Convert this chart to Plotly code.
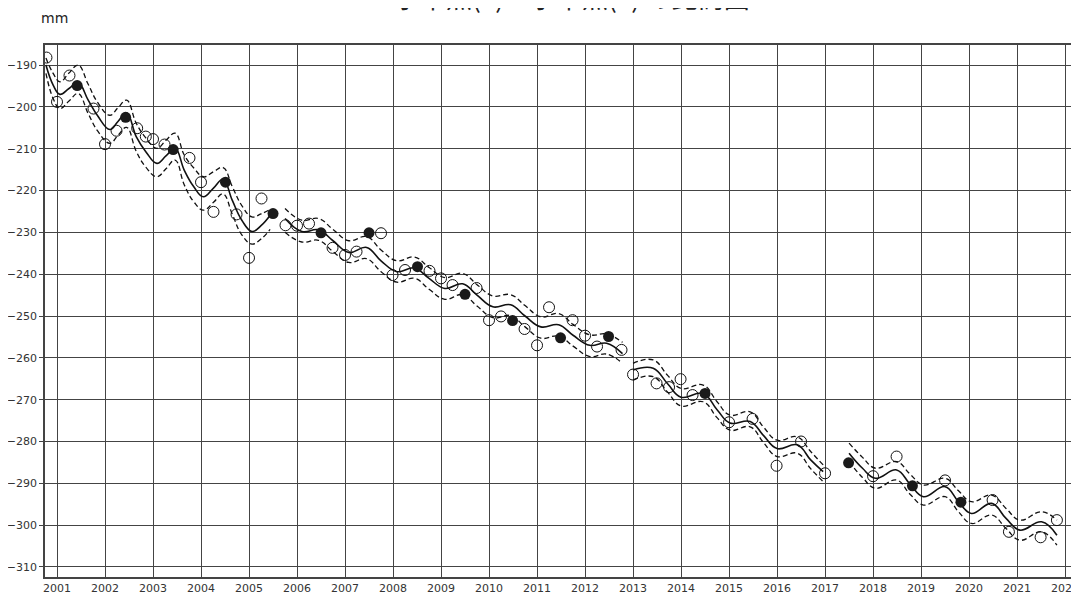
import plotly.graph_objects as go

# observed values (decimal year, mm)
open_years = [2000.78, 2001.0, 2001.26, 2001.76, 2002.0, 2002.24, 2002.67, 2002.85, 2003.0, 2003.24,
              2003.76, 2004.0, 2004.26, 2004.74, 2005.0, 2005.26, 2005.76, 2006.0, 2006.25, 2006.74,
              2007.0, 2007.24, 2007.75, 2007.99, 2008.25, 2008.76, 2009.0, 2009.24, 2009.74, 2010.0,
              2010.25, 2010.74, 2011.0, 2011.25, 2011.74, 2012.0, 2012.25, 2012.76, 2013.0, 2013.49,
              2013.75, 2013.99, 2014.24, 2015.0, 2015.49, 2015.99, 2016.5, 2017.0, 2018.0, 2018.49,
              2019.5, 2020.49, 2020.83, 2021.49, 2021.83]
open_vals = [-188.2, -198.8, -192.5, -200.4, -208.9, -205.7, -205.1, -207.1, -207.7, -209.0,
             -212.2, -218.0, -225.1, -225.7, -236.1, -221.9, -228.3, -228.4, -227.9, -233.7,
             -235.4, -234.6, -230.2, -240.2, -239.0, -239.2, -241.0, -242.6, -243.3, -251.0,
             -250.1, -253.1, -257.0, -247.9, -251.0, -254.7, -257.3, -258.1, -264.0, -266.1,
             -267.0, -265.1, -268.9, -275.4, -274.6, -285.8, -280.0, -287.6, -288.3, -283.6,
             -289.3, -294.0, -301.6, -302.9, -298.8]

filled_years = [2001.42, 2002.43, 2003.42, 2004.51, 2005.5, 2006.5, 2007.5, 2008.51, 2009.5, 2010.49,
                2011.49, 2012.49, 2014.5, 2017.49, 2018.82, 2019.83]
filled_vals = [-194.9, -202.5, -210.2, -218.0, -225.5, -230.1, -230.1, -238.2, -244.8, -251.1,
               -255.2, -254.9, -268.5, -285.1, -290.6, -294.5]

# fitted curve, read per segment: years, fit, upper band, lower band
seg1_years = [2000.77, 2000.92, 2001.06, 2001.25, 2001.44, 2001.65, 2001.85, 2002.1, 2002.27, 2002.45,
              2002.65, 2002.85, 2003.08, 2003.27, 2003.46, 2003.65, 2003.85, 2004.05, 2004.26, 2004.46,
              2004.65, 2004.85, 2005.06, 2005.25, 2005.44]
seg1_fit = [-190.0, -194.8, -197.0, -195.6, -194.2, -198.4, -202.2, -205.4, -203.5, -201.4,
            -207.1, -210.7, -213.5, -211.7, -209.9, -215.1, -219.1, -221.5, -219.4, -217.3,
            -222.3, -227.1, -229.8, -228.4, -225.9]
seg1_up = [-188.3, -192.0, -194.0, -191.9, -190.0, -194.6, -199.0, -202.0, -200.2, -198.4,
           -203.9, -207.4, -209.9, -208.0, -206.3, -211.5, -214.6, -216.7, -215.5, -214.5,
           -219.0, -223.6, -226.3, -225.6, -224.5]
seg1_low = [-192.0, -198.0, -200.4, -198.6, -196.8, -201.6, -205.8, -208.7, -206.8, -204.9,
            -210.6, -214.4, -216.7, -214.8, -212.7, -218.6, -222.7, -224.7, -222.8, -220.8,
            -225.6, -230.6, -232.8, -231.6, -229.3]

seg2_years = [2005.75, 2006.1, 2006.45, 2006.75, 2007.08, 2007.45, 2007.75, 2008.08, 2008.45, 2008.75,
              2009.08, 2009.45, 2009.75, 2010.08, 2010.45, 2010.75, 2011.08, 2011.45, 2011.75, 2012.1,
              2012.45, 2012.78]
seg2_fit = [-226.7, -229.8, -229.4, -232.0, -234.8, -233.6, -236.8, -239.4, -238.5, -241.0,
            -243.4, -242.3, -245.0, -247.8, -247.3, -250.0, -252.6, -252.1, -254.6, -257.0,
            -256.5, -259.0]
seg2_up = [-224.3, -227.1, -226.7, -229.3, -232.0, -231.0, -234.2, -236.8, -235.9, -238.4,
           -240.8, -239.8, -242.5, -245.2, -244.9, -247.5, -250.2, -249.4, -252.0, -254.5,
           -254.3, -256.3]
seg2_low = [-230.0, -232.3, -231.9, -234.6, -237.2, -236.3, -239.4, -241.9, -241.0, -243.6,
            -246.0, -244.9, -247.6, -250.4, -249.9, -252.6, -255.3, -254.8, -257.2, -259.7,
            -259.1, -261.3]

seg3_years = [2013.0, 2013.42, 2013.72, 2014.0, 2014.46, 2014.75, 2015.02, 2015.44, 2015.72, 2016.0,
              2016.42, 2016.7, 2016.96]
seg3_fit = [-262.9, -262.5, -266.2, -269.4, -268.5, -272.4, -275.6, -275.2, -278.6, -281.7,
            -280.8, -284.4, -287.2]
seg3_up = [-261.3, -260.5, -264.2, -267.3, -266.5, -270.5, -273.7, -272.9, -276.6, -279.7,
           -278.9, -282.4, -285.6]
seg3_low = [-265.3, -264.5, -268.2, -271.5, -270.5, -274.3, -277.3, -276.5, -280.3, -283.6,
            -282.8, -286.5, -289.6]

seg4_years = [2017.5, 2017.78, 2018.05, 2018.49, 2018.77, 2019.05, 2019.5, 2019.78, 2020.05, 2020.47,
              2020.77, 2021.06, 2021.51, 2021.83]
seg4_fit = [-282.8, -286.4, -288.8, -286.8, -290.2, -293.2, -290.8, -294.4, -297.2, -294.8,
            -298.4, -301.2, -299.2, -302.4]
seg4_up = [-280.4, -283.8, -286.4, -284.8, -287.8, -290.4, -288.8, -291.8, -294.4, -292.8,
           -296.0, -298.8, -296.8, -298.8]
seg4_low = [-284.8, -288.6, -291.2, -289.2, -292.6, -295.2, -293.2, -296.8, -299.6, -297.6,
            -300.8, -303.6, -301.6, -304.8]

year_ticks = list(range(2001, 2023))
mm_ticks = list(range(-310, -189, 10))

fig = go.Figure()

segments = [(seg1_years, seg1_fit, seg1_up, seg1_low),
            (seg2_years, seg2_fit, seg2_up, seg2_low),
            (seg3_years, seg3_fit, seg3_up, seg3_low),
            (seg4_years, seg4_fit, seg4_up, seg4_low)]

for yrs, fit, up, low in segments:
    for band in (up, low):
        fig.add_trace(go.Scatter(x=yrs, y=band, mode='lines',
                                 line=dict(color='#111', width=1.3, dash='5px,3px', shape='spline', smoothing=1.2),
                                 showlegend=False, hoverinfo='skip'))
    fig.add_trace(go.Scatter(x=yrs, y=fit, mode='lines',
                             line=dict(color='#111', width=1.6, shape='spline', smoothing=1.2),
                             showlegend=False))

fig.add_trace(go.Scatter(x=open_years, y=open_vals, mode='markers',
                         marker=dict(size=11, color='rgba(255,255,255,0)', line=dict(color='#111', width=1)),
                         showlegend=False))
fig.add_trace(go.Scatter(x=filled_years, y=filled_vals, mode='markers',
                         marker=dict(size=11, color='#1a1a1a', line=dict(color='#1a1a1a', width=0)),
                         showlegend=False))

axis_font = dict(family='DejaVu Sans', size=11, color='#333')

# page body has an 8px margin, so the figure is sized to fit the 1079x594 window
fig.update_layout(
    width=1071, height=586,
    margin=dict(l=37, r=0, t=37, b=17, autoexpand=False),
    plot_bgcolor='white', paper_bgcolor='white',
    font=axis_font,
    xaxis=dict(range=[2000.75, 2022.29], tickvals=year_ticks, ticktext=[str(y) for y in year_ticks],
               showgrid=True, gridcolor='#444', gridwidth=1,
               showline=True, linecolor='#444', linewidth=1.5, mirror=True,
               ticks='', ticklen=0, ticklabeloverflow='allow', zeroline=False,
               tickfont=axis_font, automargin=False),
    yaxis=dict(range=[-312.4, -185.2], tickvals=mm_ticks,
               showgrid=True, gridcolor='#444', gridwidth=1,
               showline=True, linecolor='#444', linewidth=1.5,
               ticks='outside', ticklen=4, tickcolor='#444', zeroline=False, tickfont=axis_font,
               automargin=False),
    annotations=[
        dict(text='mm', xref='paper', yref='paper', x=0, y=1, xanchor='center', yanchor='bottom',
             xshift=9, yshift=17, showarrow=False, font=dict(family='DejaVu Sans', size=14, color='#222')),
        dict(text='水準点(2)－水準点(3) の比高図', xref='paper', yref='paper', x=0.5, y=1,
             xanchor='center', yanchor='bottom', xshift=10, yshift=28, showarrow=False,
             font=dict(family='Noto Sans CJK JP', size=26, color='#222')),
    ],
)

fig.write_html("out.html")
